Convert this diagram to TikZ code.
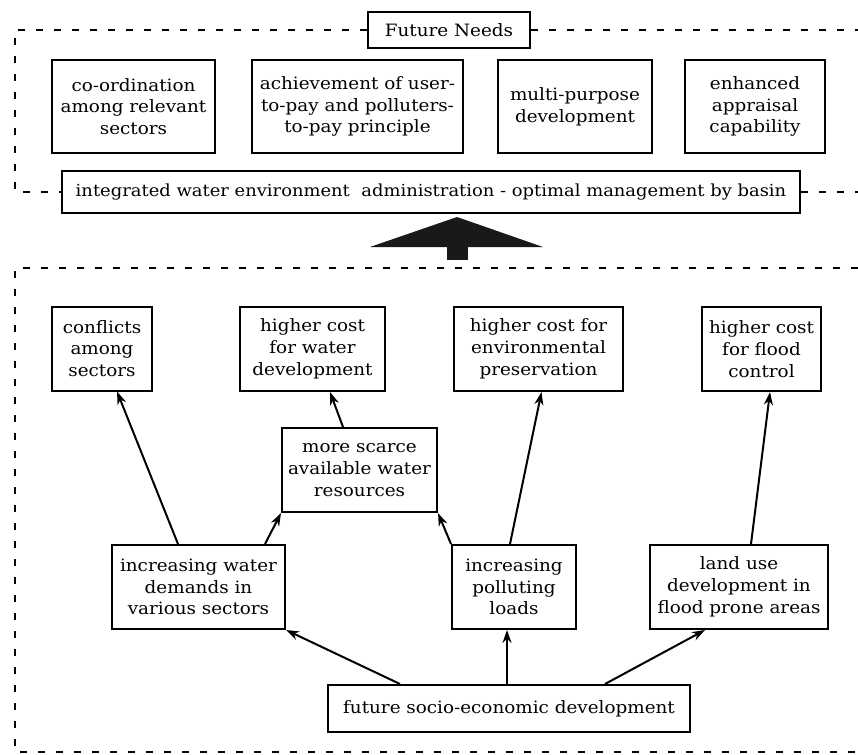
\documentclass[tikz,border=0pt]{standalone}
\usepackage{fontspec}
\setmainfont[FakeStretch=1.08]{DejaVu Serif}
\usetikzlibrary{arrows.meta}
\begin{document}
\begin{tikzpicture}[x=1pt,y=-1pt,
  box/.style={draw,line width=2pt,inner sep=0pt,align=center,
    font=\fontsize{17}{21.7}\selectfont},
  frame/.style={line width=2pt,dash pattern=on 7pt off 11pt},
  arr/.style={line width=2pt,-{Stealth[length=13pt,width=9pt]}}]
\useasboundingbox (0,0) rectangle (858,754);

% future needs block
\node[box,minimum width=162pt,minimum height=36pt] (fn) at (449,30) {Future Needs};
\node[box,minimum width=163pt,minimum height=93pt] (c1) at (133.5,106.5) {co-ordination\\among relevant\\sectors};
\node[box,minimum width=211pt,minimum height=93pt] (c2) at (357.5,106.5) {achievement of user-\\to-pay and polluters-\\to-pay principle};
\node[box,minimum width=154pt,minimum height=93pt] (c3) at (575,106.5) {multi-purpose\\development};
\node[box,minimum width=140pt,minimum height=93pt] (c4) at (755,106.5) {enhanced\\appraisal\\capability};
\node[box,minimum width=738pt,minimum height=42pt,font=\fontsize{16.6}{20}\selectfont] (iw) at (431,192) {integrated water environment\ \ administration - optimal management by basin};

% dashed outline of the upper block
\coordinate (tl) at (15,30);
\coordinate (tr) at (858,30);
\coordinate (mr) at (858,192);
\draw[frame] (fn.west) -- (tl) |- (iw.west);
\draw[frame] (fn.east) -- (tr);
\draw[frame] (iw.east) -- (mr);

% broad upward arrow
\fill[black!90] (457,217) -- (543,247) -- (370,247) -- cycle;
\fill[black!90] (447,246) rectangle (468,260);

% lower block
\coordinate (ltr) at (858,268);
\coordinate (ltl) at (15,268);
\coordinate (lbl) at (15,752);
\coordinate (lbr) at (858,752);
\draw[frame] (ltr) -- (ltl) -- (lbl) -- (lbr);

\node[box,minimum width=100pt,minimum height=84pt] (r1a) at (102,348.5) {conflicts\\among\\sectors};
\node[box,minimum width=145pt,minimum height=84pt] (r1b) at (312.5,349) {higher cost\\for water\\development};
\node[box,minimum width=169pt,minimum height=84pt] (r1c) at (538.5,349) {higher cost for\\environmental\\preservation};
\node[box,minimum width=119pt,minimum height=84pt] (r1d) at (761.5,349) {higher cost\\for flood\\control};
\node[box,minimum width=155pt,minimum height=84pt] (sc) at (359.5,470) {more scarce\\available water\\resources};
\node[box,minimum width=173pt,minimum height=84pt] (d) at (198.5,587) {increasing water\\demands in\\various sectors};
\node[box,minimum width=124pt,minimum height=84pt] (p) at (514,587) {increasing\\polluting\\loads};
\node[box,minimum width=178pt,minimum height=84pt] (l) at (739,587) {land use\\development in\\flood prone areas};
\node[box,minimum width=362pt,minimum height=47pt] (f) at (509,708.5) {future socio-economic development};

\draw[arr] ([xshift=-20.5pt]d.north) -- ([xshift=15pt]r1a.south);
\draw[arr] ([xshift=66.5pt]d.north) -- (sc.south west);
\draw[arr] ([xshift=-16.5pt]sc.north) -- ([xshift=17.5pt]r1b.south);
\draw[arr] (p.north west) -- (sc.south east);
\draw[arr] ([xshift=-4pt]p.north) -- ([xshift=3pt]r1c.south);
\draw[arr] ([xshift=12pt]l.north) -- ([xshift=8.5pt]r1d.south);
\draw[arr] ([xshift=-109pt]f.north) -- (d.south east);
\draw[arr] ([xshift=-2pt]f.north) -- ([xshift=-7pt]p.south);
\draw[arr] ([xshift=96pt]f.north) -- ([xshift=-34pt]l.south);
\end{tikzpicture}
\end{document}
